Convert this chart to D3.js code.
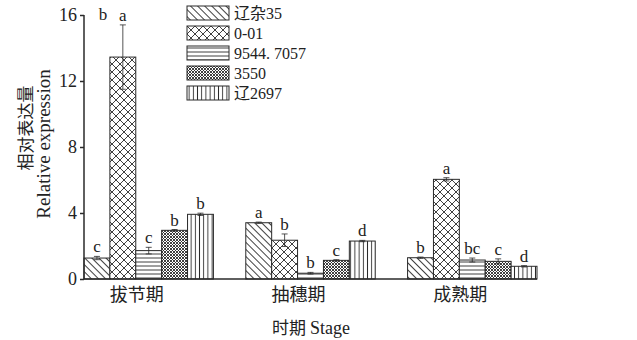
<!DOCTYPE html>
<html>
<head>
<meta charset="utf-8">
<script src="https://cdn.jsdelivr.net/npm/d3@7"></script>
<style>
  html, body { margin: 0; padding: 0; background: #fff; }
  svg { display: block; }
  text { fill: #222; }
</style>
</head>
<body>
<svg id="chart" width="637" height="340"></svg>
<script>
// Stages (x categories) and cultivars (series)
const stages = ["拔节期", "抽穗期", "成熟期"];
const cultivars = ["辽杂35", "0-01", "9544. 7057", "3550", "辽2697"];

// Relative expression per cultivar, one value per stage
const liaoza35 = [1.27, 3.41, 1.29];
const v0_01 = [13.45, 2.35, 6.04];
const v9544 = [1.72, 0.35, 1.15];
const v3550 = [2.95, 1.13, 1.07];
const liao2697 = [3.92, 2.30, 0.77];

// Standard errors
const err35 = [0.10, 0.04, 0.04];
const err0_01 = [1.95, 0.38, 0.10];
const err9544 = [0.20, 0.05, 0.12];
const err3550 = [0.05, 0.04, 0.15];
const err2697 = [0.07, 0.04, 0.04];

// Significance letters
const sig35 = ["c", "a", "b"];
const sig0_01 = ["a", "b", "a"];
const sig9544 = ["c", "b", "bc"];
const sig3550 = ["b", "c", "c"];
const sig2697 = ["b", "d", "d"];

const yTicks = [0, 4, 8, 12, 16];

const seriesValues = [liaoza35, v0_01, v9544, v3550, liao2697];
const seriesErrors = [err35, err0_01, err9544, err3550, err2697];
const seriesLetters = [sig35, sig0_01, sig9544, sig3550, sig2697];
const patternIds = ["p-diag", "p-cross", "p-horiz", "p-mesh", "p-vert"];

const svg = d3.select("#chart");
const ink = "#2a2a2a";
const serif = "'Liberation Serif', 'Times New Roman', serif";
const cjk = "'Noto Sans CJK SC', 'Liberation Serif', serif";

// Fill patterns
const defs = svg.append("defs");
function pat(id, size, d, sw, transform) {
  const p = defs.append("pattern").attr("id", id)
    .attr("patternUnits", "userSpaceOnUse")
    .attr("width", size).attr("height", size);
  if (transform) p.attr("patternTransform", transform);
  p.append("rect").attr("width", size).attr("height", size).attr("fill", "#fff");
  p.append("path").attr("d", d).attr("stroke", ink).attr("stroke-width", sw).attr("fill", "none");
}
pat("p-diag", 5, "M0,2.5H5", 0.9, "rotate(45)");
pat("p-cross", 8, "M0,0L8,8M8,0L0,8", 0.9);
pat("p-horiz", 4, "M0,2H4", 0.9);
pat("p-mesh", 3, "M0,0L3,3M3,0L0,3", 0.9);
pat("p-vert", 4.2, "M2.1,0V4.2", 0.9);

const x0 = d3.scaleBand().domain(stages).range([84, 537]).paddingInner(0.2).paddingOuter(0);
const x1 = d3.scaleBand().domain(cultivars).range([0, x0.bandwidth()]).padding(0);
const y = d3.scaleLinear().domain([0, 16]).range([279, 15]);

// Bars
const bars = [];
cultivars.forEach((c, si) => {
  stages.forEach((s, gi) => {
    bars.push({ stage: s, cultivar: c, si, v: seriesValues[si][gi], e: seriesErrors[si][gi], lab: seriesLetters[si][gi] });
  });
});

const g = svg.append("g");
g.selectAll("rect.bar").data(bars).join("rect").attr("class", "bar")
  .attr("x", d => x0(d.stage) + x1(d.cultivar))
  .attr("y", d => y(d.v))
  .attr("width", x1.bandwidth())
  .attr("height", d => y(0) - y(d.v))
  .attr("fill", d => `url(#${patternIds[d.si]})`)
  .attr("stroke", ink).attr("stroke-width", 1);

// Error bars
const eb = g.selectAll("g.err").data(bars).join("g").attr("class", "err")
  .attr("transform", d => `translate(${x0(d.stage) + x1(d.cultivar) + x1.bandwidth() / 2},0)`);
eb.append("line").attr("y1", d => y(d.v + d.e)).attr("y2", d => y(d.v - d.e))
  .attr("stroke", ink).attr("stroke-width", 0.8);
eb.append("line").attr("x1", -3).attr("x2", 3).attr("y1", d => y(d.v + d.e)).attr("y2", d => y(d.v + d.e))
  .attr("stroke", ink).attr("stroke-width", 0.8);
eb.append("line").attr("x1", -3).attr("x2", 3).attr("y1", d => y(d.v - d.e)).attr("y2", d => y(d.v - d.e))
  .attr("stroke", ink).attr("stroke-width", 0.8);

// Significance letters
g.selectAll("text.sig").data(bars).join("text").attr("class", "sig")
  .attr("x", d => x0(d.stage) + x1(d.cultivar) + x1.bandwidth() / 2)
  .attr("y", d => y(d.v + d.e) - 4)
  .attr("text-anchor", "middle")
  .style("font-family", serif).style("font-size", "17px")
  .text(d => d.lab);

// Extra letter printed beside the top tick
svg.append("text").attr("x", 103).attr("y", 20).attr("text-anchor", "middle")
  .style("font-family", serif).style("font-size", "17px").text("b");

// Y axis
const yAxis = svg.append("g").attr("transform", "translate(84,0)")
  .call(d3.axisLeft(y).tickValues(yTicks).tickSize(4).tickPadding(3));
yAxis.select(".domain").attr("stroke", ink).attr("stroke-width", 1.5).attr("d", "M0,279V15");
yAxis.selectAll(".tick line").attr("stroke", ink).attr("stroke-width", 1.5);
yAxis.selectAll(".tick text").style("font-family", serif).style("font-size", "18px").attr("fill", "#222");

// X axis
const xAxis = svg.append("g").attr("transform", "translate(0,279)")
  .call(d3.axisBottom(x0).tickSize(0).tickPadding(8));
xAxis.select(".domain").attr("stroke", ink).attr("stroke-width", 1.5).attr("d", "M84,0H537");
xAxis.selectAll(".tick text").style("font-family", cjk).style("font-size", "18px")
  .attr("fill", "#222").attr("dx", -12).attr("dy", "0.75em");

// Axis titles
svg.append("text").attr("x", 311).attr("y", 334).attr("text-anchor", "middle")
  .style("font-family", cjk).style("font-size", "17px")
  .text("时期 ").append("tspan").style("font-family", serif).style("font-size", "18px").text("Stage");

svg.append("text").attr("transform", "translate(32,128) rotate(-90)").attr("text-anchor", "middle")
  .style("font-family", cjk).style("font-size", "17px").text("相对表达量");
svg.append("text").attr("transform", "translate(50,144) rotate(-90)").attr("text-anchor", "middle")
  .style("font-family", serif).style("font-size", "19px").text("Relative expression");

// Legend
const leg = svg.append("g");
const rows = leg.selectAll("g").data(cultivars).join("g")
  .attr("transform", (d, i) => `translate(187,${6 + i * 20})`);
rows.append("rect").attr("width", 42).attr("height", 14)
  .attr("fill", (d, i) => `url(#${patternIds[i]})`)
  .attr("stroke", ink).attr("stroke-width", 1);
rows.append("text").attr("x", 47).attr("y", 7).attr("dy", "0.36em")
  .style("font-family", "'Liberation Serif', 'Noto Sans CJK SC', serif").style("font-size", "16px")
  .text(d => d);
</script>
</body>
</html>
